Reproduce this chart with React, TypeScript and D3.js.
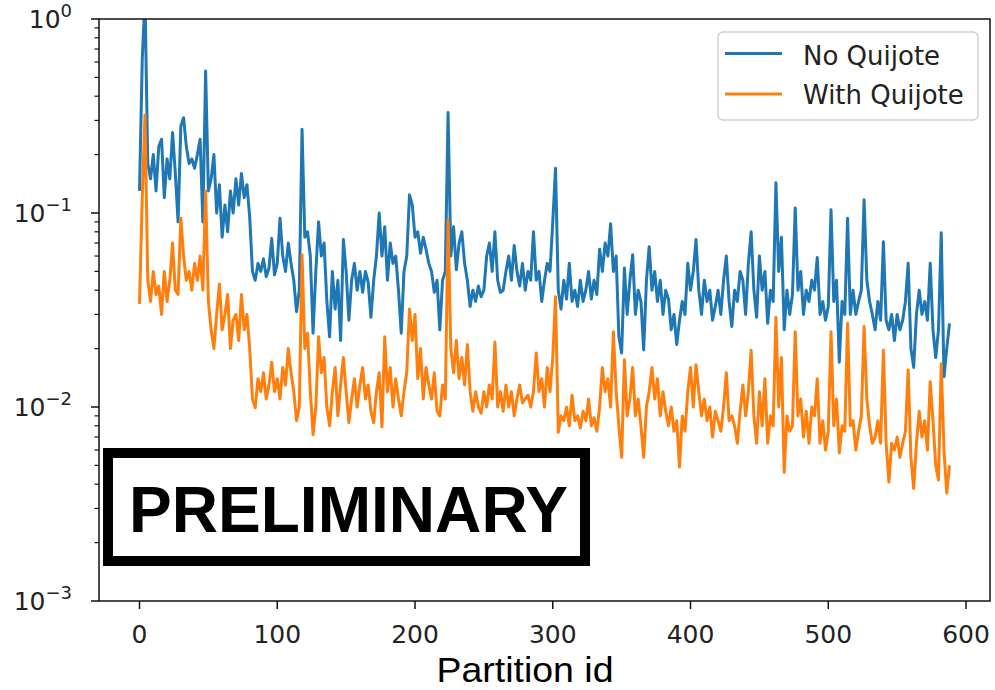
import React from "react";
import * as d3 from "d3";

// partition ids are 0, 2, 4, ... (one reading every STEP ids)
const STEP = 2;

const noQuijote: number[] = [
  0.13, 0.62, 1.3, 0.18, 0.15, 0.2, 0.13, 0.22, 0.24, 0.12,
  0.19, 0.15, 0.26, 0.16, 0.09, 0.28, 0.31, 0.22, 0.18, 0.19,
  0.17, 0.2, 0.24, 0.09, 0.54, 0.13, 0.15, 0.2, 0.1, 0.14,
  0.075, 0.11, 0.08, 0.13, 0.1, 0.15, 0.11, 0.16, 0.12, 0.14,
  0.095, 0.05, 0.045, 0.055, 0.05, 0.058, 0.047, 0.052, 0.074, 0.048,
  0.055, 0.094, 0.06, 0.05, 0.07, 0.055, 0.045, 0.031, 0.04, 0.27,
  0.075, 0.08, 0.06, 0.024, 0.05, 0.09, 0.06, 0.07, 0.035, 0.023,
  0.05, 0.032, 0.045, 0.022, 0.073, 0.05, 0.028, 0.045, 0.055, 0.04,
  0.05, 0.039, 0.05, 0.044, 0.029, 0.045, 0.06, 0.1, 0.06, 0.085,
  0.045, 0.07, 0.055, 0.06, 0.04, 0.024, 0.05, 0.06, 0.124, 0.11,
  0.075, 0.08, 0.062, 0.075, 0.065, 0.055, 0.05, 0.039, 0.045, 0.025,
  0.045, 0.05, 0.33, 0.06, 0.085, 0.051, 0.07, 0.08, 0.055, 0.045,
  0.033, 0.04, 0.035, 0.042, 0.037, 0.04, 0.06, 0.07, 0.05, 0.08,
  0.045, 0.039, 0.04, 0.05, 0.06, 0.045, 0.068, 0.05, 0.042, 0.055,
  0.04, 0.05, 0.045, 0.08, 0.045, 0.05, 0.035, 0.045, 0.055, 0.05,
  0.09, 0.17, 0.04, 0.032, 0.045, 0.036, 0.055, 0.035, 0.04, 0.033,
  0.045, 0.035, 0.04, 0.05, 0.036, 0.045, 0.038, 0.065, 0.05, 0.07,
  0.06, 0.088, 0.05, 0.06, 0.023, 0.019, 0.052, 0.03, 0.045, 0.061,
  0.03, 0.04, 0.035, 0.0197, 0.045, 0.067, 0.04, 0.05, 0.035, 0.045,
  0.03, 0.04, 0.036, 0.025, 0.03, 0.021, 0.028, 0.035, 0.03, 0.055,
  0.04, 0.05, 0.073, 0.04, 0.03, 0.045, 0.035, 0.04, 0.028, 0.033,
  0.04, 0.03, 0.045, 0.06, 0.035, 0.026, 0.04, 0.035, 0.05, 0.045,
  0.03, 0.055, 0.08, 0.04, 0.029, 0.06, 0.04, 0.05, 0.027, 0.04,
  0.035, 0.143, 0.05, 0.075, 0.025, 0.04, 0.03, 0.038, 0.106, 0.04,
  0.05, 0.03, 0.04, 0.035, 0.045, 0.04, 0.059, 0.03, 0.035, 0.028,
  0.033, 0.104, 0.035, 0.045, 0.017, 0.035, 0.03, 0.094, 0.03, 0.04,
  0.03, 0.035, 0.04, 0.117, 0.045, 0.035, 0.03, 0.025, 0.035, 0.028,
  0.071, 0.028, 0.025, 0.03, 0.022, 0.03, 0.025, 0.028, 0.035, 0.055,
  0.02, 0.016, 0.03, 0.04, 0.03, 0.035, 0.028, 0.055, 0.025, 0.018,
  0.025, 0.079, 0.0143, 0.02, 0.027,
];

const withQuijote: number[] = [
  0.034, 0.12, 0.32, 0.045, 0.035, 0.05, 0.038, 0.042, 0.03, 0.05,
  0.035, 0.045, 0.07, 0.04, 0.038, 0.094, 0.06, 0.045, 0.05, 0.04,
  0.055, 0.045, 0.06, 0.04, 0.13, 0.035, 0.025, 0.02, 0.03, 0.043,
  0.025, 0.03, 0.038, 0.02, 0.028, 0.03, 0.022, 0.038, 0.025, 0.03,
  0.02, 0.011, 0.0099, 0.014, 0.012, 0.015, 0.011, 0.013, 0.017, 0.012,
  0.014, 0.011, 0.016, 0.013, 0.02, 0.015, 0.012, 0.0085, 0.01, 0.061,
  0.02, 0.024, 0.012, 0.0072, 0.01, 0.023, 0.015, 0.018, 0.01, 0.008,
  0.012, 0.016, 0.009, 0.013, 0.018, 0.012, 0.0083, 0.011, 0.014, 0.01,
  0.013, 0.016, 0.011, 0.013, 0.0095, 0.0083, 0.012, 0.015, 0.0079, 0.023,
  0.012, 0.016, 0.01, 0.014, 0.011, 0.009, 0.012, 0.015, 0.032, 0.022,
  0.03, 0.014, 0.02, 0.011, 0.016, 0.013, 0.011, 0.015, 0.0095, 0.009,
  0.013, 0.011, 0.092, 0.02, 0.015, 0.022, 0.014, 0.018, 0.013, 0.021,
  0.012, 0.0095, 0.012, 0.01, 0.0093, 0.012, 0.01, 0.013, 0.011, 0.0216,
  0.01, 0.012, 0.0095, 0.013, 0.01, 0.012, 0.009, 0.011, 0.013, 0.0105,
  0.011, 0.0115, 0.01, 0.012, 0.019, 0.012, 0.014, 0.01, 0.016, 0.012,
  0.018, 0.037, 0.0074, 0.009, 0.0085, 0.01, 0.008, 0.0115, 0.0085, 0.009,
  0.0078, 0.0095, 0.0085, 0.011, 0.008, 0.0088, 0.0075, 0.01, 0.016, 0.012,
  0.014, 0.01, 0.0244, 0.012, 0.008, 0.0055, 0.0175, 0.009, 0.011, 0.016,
  0.009, 0.011, 0.008, 0.0055, 0.01, 0.012, 0.016, 0.011, 0.014, 0.009,
  0.012, 0.0095, 0.008, 0.01, 0.0075, 0.0085, 0.0049, 0.009, 0.0075, 0.012,
  0.016, 0.01, 0.0165, 0.012, 0.009, 0.011, 0.0085, 0.01, 0.007, 0.0095,
  0.0085, 0.0075, 0.01, 0.015, 0.0085, 0.009, 0.008, 0.0065, 0.0095, 0.013,
  0.009, 0.012, 0.0196, 0.009, 0.0065, 0.012, 0.008, 0.014, 0.0065, 0.009,
  0.008, 0.029, 0.01, 0.018, 0.0046, 0.009, 0.0075, 0.008, 0.0244, 0.009,
  0.011, 0.007, 0.0095, 0.0065, 0.01, 0.009, 0.014, 0.0065, 0.0085, 0.006,
  0.0075, 0.0244, 0.008, 0.011, 0.0058, 0.008, 0.0075, 0.027, 0.008, 0.0085,
  0.006, 0.0075, 0.009, 0.026, 0.011, 0.008, 0.0065, 0.007, 0.0085, 0.0065,
  0.0196, 0.0065, 0.0041, 0.0065, 0.006, 0.007, 0.0055, 0.0065, 0.0075, 0.0155,
  0.0055, 0.0038, 0.0065, 0.0095, 0.007, 0.0085, 0.006, 0.0135, 0.0085, 0.005,
  0.0042, 0.0167, 0.006, 0.0036, 0.005,
];

const xTicks = [0, 100, 200, 300, 400, 500, 600];
const yTickExponents = [0, -1, -2, -3];
const seriesNames = ["No Quijote", "With Quijote"];
const seriesColors = ["#1f77b4", "#ff7f0e"];
const xLabel = "Partition id";
const stampText = "PRELIMINARY";

export default function App() {
  const W = 995, H = 690;
  const L = 99, R = 990, T = 19, B = 601;
  const x = d3.scaleLinear().domain([-29.4, 617.4]).range([L, R]);
  const y = d3.scaleLog().domain([1e-3, 1]).range([B, T]);
  const line = d3
    .line<number>()
    .x((_, i) => x(i * STEP))
    .y((d) => y(d));

  const minorTicks: number[] = [];
  for (let e = -3; e < 0; e++) {
    for (let m = 2; m <= 9; m++) minorTicks.push(m * Math.pow(10, e));
  }

  const series = [noQuijote, withQuijote];
  const tickFont = "'DejaVu Sans', sans-serif";

  return (
    <svg
      width={W}
      height={H}
      style={{ position: "absolute", left: 0, top: 0, background: "#fff" }}
    >
      <defs>
        <clipPath id="plotClip">
          <rect x={L} y={T} width={R - L} height={B - T} />
        </clipPath>
      </defs>
      <rect x={0} y={0} width={W} height={H} fill="#fff" />

      <g clipPath="url(#plotClip)">
        {series.map((s, k) => (
          <path
            key={k}
            d={line(s) || ""}
            fill="none"
            stroke={seriesColors[k]}
            strokeWidth={3}
            strokeLinejoin="round"
          />
        ))}
      </g>

      {/* spines */}
      <rect x={L} y={T} width={R - L} height={B - T} fill="none" stroke="#111" strokeWidth={1.5} />

      {/* x ticks */}
      {xTicks.map((t) => (
        <g key={t}>
          <line x1={x(t)} x2={x(t)} y1={B} y2={B + 8} stroke="#111" strokeWidth={1.5} />
          <text
            x={x(t)}
            y={643}
            textAnchor="middle"
            fontFamily={tickFont}
            fontSize={25}
            fill="#222"
          >
            {t}
          </text>
        </g>
      ))}

      {/* y ticks */}
      {minorTicks.map((v, i) => (
        <line key={i} x1={L - 4.5} x2={L} y1={y(v)} y2={y(v)} stroke="#111" strokeWidth={1.2} />
      ))}
      {yTickExponents.map((e) => (
        <g key={e}>
          <line x1={L - 8} x2={L} y1={y(Math.pow(10, e))} y2={y(Math.pow(10, e))} stroke="#111" strokeWidth={1.5} />
          <text
            x={72}
            y={y(Math.pow(10, e)) + 9}
            textAnchor="end"
            fontFamily={tickFont}
            fontSize={25}
            fill="#222"
          >
            <tspan>10</tspan>
            <tspan dy={-11} fontSize={18}>
              {e === 0 ? "0" : "\u2212" + Math.abs(e)}
            </tspan>
          </text>
        </g>
      ))}

      {/* legend */}
      <rect x={718} y={32} width={260} height={88} rx={5} fill="#fff" fillOpacity={0.85} stroke="#d0d0d0" strokeWidth={1.5} />
      {seriesNames.map((n, k) => (
        <g key={n}>
          <line x1={725} x2={782} y1={53.5 + k * 40.5} y2={53.5 + k * 40.5} stroke={seriesColors[k]} strokeWidth={3} />
          <text x={803} y={65 + k * 38.5} fontFamily={tickFont} fontSize={26} fill="#222">
            {n}
          </text>
        </g>
      ))}

      {/* x label */}
      <text
        x={525}
        y={682}
        textAnchor="middle"
        fontFamily="'Liberation Sans', Arial, Helvetica, sans-serif"
        fontSize={35}
        textLength={177}
        lengthAdjust="spacingAndGlyphs"
        fill="#000"
      >
        {xLabel}
      </text>

      {/* stamp */}
      <rect x={108} y={453} width={477} height={108} fill="#fff" stroke="#000" strokeWidth={10} />
      <text
        x={348.5}
        y={531.5}
        textAnchor="middle"
        fontFamily="'Liberation Sans', Arial, Helvetica, sans-serif"
        fontWeight="bold"
        fontSize={64}
        textLength={439}
        lengthAdjust="spacingAndGlyphs"
        fill="#000"
      >
        {stampText}
      </text>
    </svg>
  );
}
